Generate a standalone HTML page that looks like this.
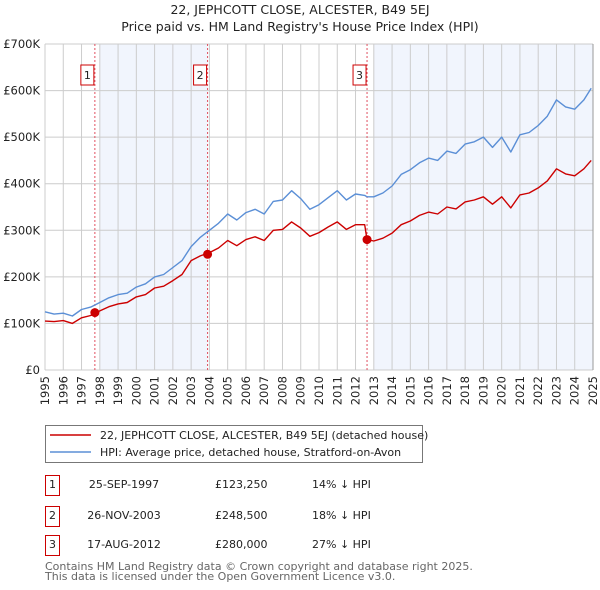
<!DOCTYPE html>
<html><head><meta charset="utf-8"><style>
body{margin:0;background:#fff;font-family:"Liberation Sans","DejaVu Sans",sans-serif;}
#wrap{position:relative;width:600px;height:590px;overflow:hidden}
</style></head><body><div id="wrap">
<svg id="chart" width="600" height="590" font-family="DejaVu Sans, Liberation Sans, sans-serif"></svg>
</div>
<script>
const years=[1995,1995.5,1996,1996.5,1997,1997.5,1998,1998.5,1999,1999.5,2000,2000.5,2001,2001.5,2002,2002.5,2003,2003.5,2004,2004.5,2005,2005.5,2006,2006.5,2007,2007.5,2008,2008.5,2009,2009.5,2010,2010.5,2011,2011.5,2012,2012.5,2012.63,2013,2013.5,2014,2014.5,2015,2015.5,2016,2016.5,2017,2017.5,2018,2018.5,2019,2019.5,2020,2020.5,2021,2021.5,2022,2022.5,2023,2023.5,2024,2024.5,2024.9];
const hpiValues=[125,120,122,116,130,135,145,155,162,165,178,185,200,205,220,235,265,285,300,315,335,322,338,345,335,362,365,385,368,345,355,370,385,365,378,375,372,372,380,395,420,430,445,455,450,470,465,485,490,500,478,500,468,505,510,525,545,580,565,560,580,605];
const paidValues=[105,104,106,100,112,117,127,136,142,145,157,162,176,180,192,205,235,245,252,262,278,267,280,286,278,300,302,318,305,287,295,307,318,302,312,312,280,277,283,294,312,320,332,339,335,350,346,361,365,372,356,372,348,376,380,391,406,432,421,417,432,450];
const saleYears=[1997.73,2003.9,2012.63];
const saleValues=[123.25,248.5,280];
const saleLabels=["1","2","3"];
const yTicks=[0,100,200,300,400,500,600,700];
const yTickLabels=["£0","£100K","£200K","£300K","£400K","£500K","£600K","£700K"];
const shadeRanges=[[1998,2003.9],[2013,2025]];
const tableDates=["25-SEP-1997","26-NOV-2003","17-AUG-2012"];
const tablePrices=["£123,250","£248,500","£280,000"];
const tableDiffs=["14% ↓ HPI","18% ↓ HPI","27% ↓ HPI"];

const NS="http://www.w3.org/2000/svg";
const svg=document.getElementById('chart');
const L=45,R=593,T=44,B=370;
const x=v=>L+(v-1995)/30*(R-L);
const y=v=>B-v/700*(B-T);
function mk(tag,attrs,parent){const e=document.createElementNS(NS,tag);for(const k in attrs)e.setAttribute(k,attrs[k]);(parent||svg).appendChild(e);return e;}
function txt(s,attrs,parent){const e=mk('text',attrs,parent);e.textContent=s;return e;}

let t=txt("22, JEPHCOTT CLOSE, ALCESTER, B49 5EJ",{x:300,y:14,'text-anchor':'middle','font-size':12.5,fill:'#222'});

t=txt("Price paid vs. HM Land Registry's House Price Index (HPI)",{x:300,y:31,'text-anchor':'middle','font-size':12.5,fill:'#222'});


shadeRanges.forEach(r=>{const e=mk('rect',{x:x(r[0]),y:T,width:x(r[1])-x(r[0]),height:B-T,fill:'#eef3fc',opacity:0.8});
});

for(let yr=1995;yr<=2025;yr++){const g=mk('line',{x1:x(yr),x2:x(yr),y1:T,y2:B,stroke:'#ccc','stroke-width':1});

const lx=x(yr)+4;const tl=txt(String(yr),{x:lx,y:376,'font-size':11.5,fill:'#222',transform:`rotate(-90 ${lx} 376)`,'text-anchor':'end'});
}
yTicks.forEach((v,i)=>{const g=mk('line',{x1:L,x2:R,y1:y(v),y2:y(v),stroke:'#ccc','stroke-width':1});

const tl=txt(yTickLabels[i],{x:40,y:y(v)+4,'text-anchor':'end','font-size':11.5,fill:'#222'});
});
mk('line',{x1:R,x2:R,y1:T,y2:B,stroke:'#999','stroke-width':1});

saleYears.forEach((s,i)=>{const l=mk('line',{x1:x(s),x2:x(s),y1:T,y2:B,stroke:'#e05060','stroke-width':1,'stroke-dasharray':'2,2'});

const bx=mk('rect',{x:x(s)-14,y:65,width:13,height:20,fill:'#fff',stroke:'#c00','stroke-width':1});

txt(saleLabels[i],{x:x(s)-7.5,y:79,'text-anchor':'middle','font-size':11,fill:'#222'});});

function path(vals,color,name){const d=vals.map((v,i)=>(i?'L':'M')+x(years[i]).toFixed(1)+','+y(v).toFixed(1)).join('');
const p=mk('path',{d:d,fill:'none',stroke:color,'stroke-width':1.4,'stroke-linejoin':'round'});
}
path(hpiValues,'#5b8fd6','hpi-line');
path(paidValues,'#cc0000','price-paid-line');
saleYears.forEach((s,i)=>{const c=mk('circle',{cx:x(s),cy:y(saleValues[i]),r:4.5,fill:'#cc0000'});
});

// legend
const lg=mk('rect',{x:45.5,y:425.5,width:377,height:37,fill:'#fff',stroke:'#777','stroke-width':1});

mk('line',{x1:50,x2:91,y1:435,y2:435,stroke:'#cc0000','stroke-width':1.5});
t=txt("22, JEPHCOTT CLOSE, ALCESTER, B49 5EJ (detached house)",{x:100,y:439,'font-size':11,fill:'#222'});

mk('line',{x1:50,x2:91,y1:452,y2:452,stroke:'#5b8fd6','stroke-width':1.5});
t=txt("HPI: Average price, detached house, Stratford-on-Avon",{x:100,y:456,'font-size':11,fill:'#222'});


[485,516,545].forEach((ry,i)=>{const b=mk('rect',{x:45.5,y:ry-9.5,width:14,height:20,fill:'#fff',stroke:'#c00'});

txt(saleLabels[i],{x:52.5,y:ry+3,'text-anchor':'middle','font-size':11,fill:'#222'});
let c=txt(tableDates[i],{x:124,y:ry+3,'text-anchor':'middle','font-size':11,fill:'#222'});
c=txt(tablePrices[i],{x:215,y:ry+3,'font-size':11,fill:'#222'});
c=txt(tableDiffs[i],{x:312,y:ry+3,'font-size':11,fill:'#222'});});

t=txt("Contains HM Land Registry data © Crown copyright and database right 2025.",{x:45,y:570,'font-size':11,fill:'#666'});

t=txt("This data is licensed under the Open Government Licence v3.0.",{x:45,y:580,'font-size':11,fill:'#666'});

</script></body></html>
